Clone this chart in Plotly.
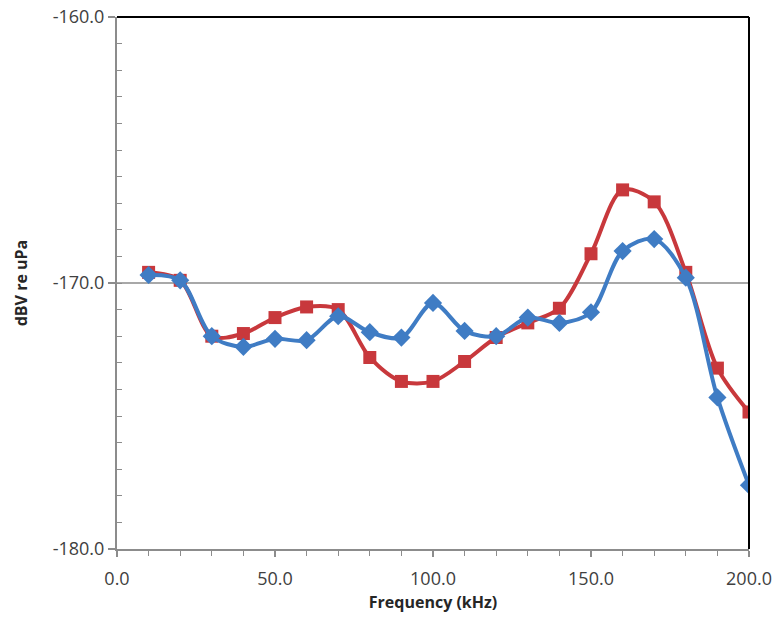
import plotly.graph_objects as go

freq_khz = [10, 20, 30, 40, 50, 60, 70, 80, 90, 100,
            110, 120, 130, 140, 150, 160, 170, 180, 190, 200]
series_red = [-169.6, -169.9, -172.0, -171.9, -171.3, -170.9, -171.0, -172.8, -173.7, -173.7,
              -172.95, -172.05, -171.5, -170.95, -168.9, -166.5, -166.95, -169.6, -173.2, -174.85]
series_blue = [-169.7, -169.9, -172.0, -172.4, -172.1, -172.15, -171.25, -171.85, -172.05, -170.75,
               -171.8, -172.0, -171.3, -171.5, -171.1, -168.8, -168.35, -169.8, -174.3, -177.6]
x_ticks = [0, 50, 100, 150, 200]
y_ticks = [-180, -170, -160]
x_labels = [f"{v:.1f}" for v in x_ticks]
y_labels = [f"{v:.1f}" for v in y_ticks]

RED = "#C8383C"
BLUE = "#3F7CC4"
FONT = "Open Sans"
TXT = "#404040"

fig = go.Figure()
fig.add_trace(go.Scatter(
    x=freq_khz, y=series_red, mode="lines+markers",
    line=dict(color=RED, width=4, shape="spline", smoothing=0.9),
    marker=dict(symbol="square", size=13, color=RED),
    showlegend=False))
fig.add_trace(go.Scatter(
    x=freq_khz, y=series_blue, mode="lines+markers",
    line=dict(color=BLUE, width=4, shape="spline", smoothing=0.9),
    marker=dict(symbol="diamond", size=14, color=BLUE),
    showlegend=False))

fig.update_layout(
    width=773, height=624,
    margin=dict(l=117, r=24, t=17, b=75),
    paper_bgcolor="white", plot_bgcolor="white",
    font=dict(family=FONT, size=18, color=TXT),
    xaxis=dict(
        range=[0, 200], tickvals=x_ticks, ticktext=x_labels,
        showgrid=False, zeroline=False,
        showline=True, linecolor="#8C8C8C", linewidth=2,
        ticks="outside", ticklen=6, tickcolor="#8C8C8C", tickwidth=1.5,
        ticklabelstandoff=6,
        minor=dict(dtick=10, ticks="outside", ticklen=5, tickcolor="#8C8C8C", tickwidth=1),
        tickfont=dict(size=18, color=TXT),
        title=dict(text="<b>Frequency (kHz)</b>", font=dict(size=16, color="#262626"), standoff=8),
        automargin=False,
    ),
    yaxis=dict(
        range=[-180, -160], tickvals=y_ticks, ticktext=y_labels,
        showgrid=True, gridcolor="#A8A8A8", gridwidth=1.5, zeroline=False,
        showline=True, linecolor="#8C8C8C", linewidth=2,
        ticks="outside", ticklen=7, tickcolor="#8C8C8C", tickwidth=1.5,
        minor=dict(dtick=1, ticks="inside", ticklen=5, tickcolor="#8C8C8C", tickwidth=1, showgrid=False),
        tickfont=dict(size=18, color=TXT),
        title=dict(text="<b>dBV re uPa</b>", font=dict(size=16, color="#262626"), standoff=21),
        automargin=False,
    ),
    shapes=[
        dict(type="line", xref="x domain", yref="y domain", x0=0, x1=1, y0=1, y1=1,
             line=dict(color="black", width=2)),
        dict(type="line", xref="x domain", yref="y domain", x0=1, x1=1, y0=0, y1=1,
             line=dict(color="black", width=2)),
    ],
)

fig.write_html("out.html")
